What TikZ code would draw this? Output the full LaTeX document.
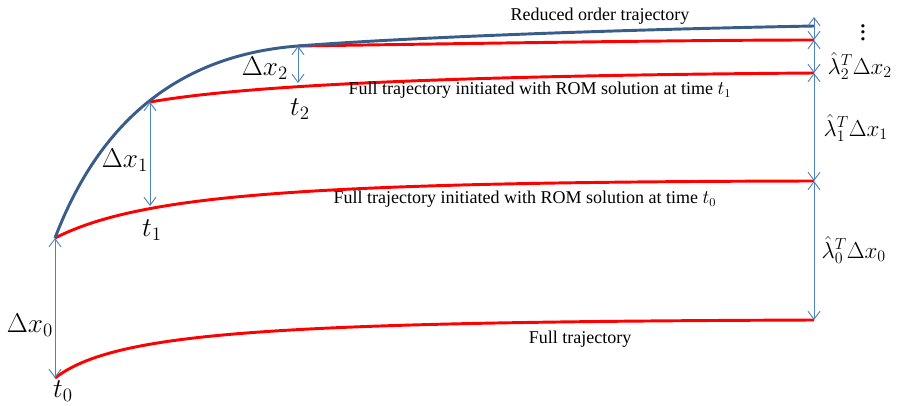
\documentclass[tikz,border=0pt]{standalone}
\usepackage{fontspec}
\setmainfont{Liberation Serif}
\usetikzlibrary{arrows.meta,positioning}
\definecolor{romblue}{RGB}{56,93,138}
\definecolor{gapblue}{RGB}{79,129,189}
\tikzset{
traj/.style={red, line width=2.2pt},
romtraj/.style={romblue, line width=2.2pt},
gap/.style={
  gapblue, line width=0.7pt,
  {Straight Barb[length=6pt,width=9pt]}-{Straight Barb[length=6pt,width=9pt]}
  },
lbl/.style={font=\fontsize{13.5}{16}\selectfont, inner sep=1pt},
mlbl/.style={font=\fontsize{17.28}{21}\selectfont, inner sep=1pt, scale=1.18},
lamlbl/.style={font=\fontsize{17.28}{21}\selectfont, inner sep=1pt, anchor=west}
}

\begin{document}
\begin{tikzpicture}[x=0.75pt, y=-0.75pt]
\useasboundingbox (0,0) rectangle (902,406);

% start points on the reduced order trajectory
\coordinate (r0) at (55,238);
\coordinate (r1) at (150,102);
\coordinate (r2) at (298,46);
\coordinate (rend) at (814,26);
% full trajectory start and points below the ROM starts
\coordinate (f0) at (55,378);
\coordinate (p1) at (150,206);
\coordinate (p2) at (298,83);
% right ends
\coordinate (top) at (814,17);
\coordinate (e2) at (814,40);
\coordinate (e1) at (814,73);
\coordinate (e0) at (814,181);
\coordinate (ef) at (814,320);

% trajectories
\draw[traj] (f0) .. controls (115,332) and (270,322) .. (ef);
\draw[traj] (r0) .. controls (140,195) and (300,182) .. (e0);
\draw[traj] (r1) .. controls (230,88) and (400,76) .. (e1);
\draw[traj] (r2) .. controls (500,43) and (700,40) .. (e2);
\draw[romtraj] (r0) .. controls (100,120) and (180,55) .. (r2)
  .. controls (400,38) and (600,30) .. (rend);

% gaps
\draw[gap] (r0) -- (f0);
\draw[gap] (r1) -- (p1);
\draw[gap] (r2) -- (p2);
\draw[gap] (top) -- (e2);
\draw[gap] (e2) -- (e1);
\draw[gap] (e1) -- (e0);
\draw[gap] (e0) -- (ef);

% labels
\node[lbl] (rom) at (600,16) {Reduced order trajectory};
\node[lbl] (full1) at (540,90) {Full trajectory initiated with ROM solution at time $t_1$};
\node[lbl] (full0) at (525,199) {Full trajectory initiated with ROM solution at time $t_0$};
\node[lbl] (full) at (580,339) {Full trajectory};

\node[mlbl] (dx0) at (30,325) {$\Delta x_0$};
\node[mlbl] (dx1) at (125,160) {$\Delta x_1$};
\node[mlbl] (dx2) at (265,68) {$\Delta x_2$};
\node[mlbl] (t0) at (63,391) {$t_0$};
\node[mlbl] (t1) at (152,230) {$t_1$};
\node[mlbl] (t2) at (300,109) {$t_2$};

\node[mlbl] (dots) at (863,28) {$\vdots$};
\node[lamlbl] (lam2) at (826,66) {$\hat{\lambda}_2^T\Delta x_2$};
\node[lamlbl] (lam1) at (822,128) {$\hat{\lambda}_1^T\Delta x_1$};
\node[lamlbl] (lam0) at (820,250) {$\hat{\lambda}_0^T\Delta x_0$};
\end{tikzpicture}
\end{document}
